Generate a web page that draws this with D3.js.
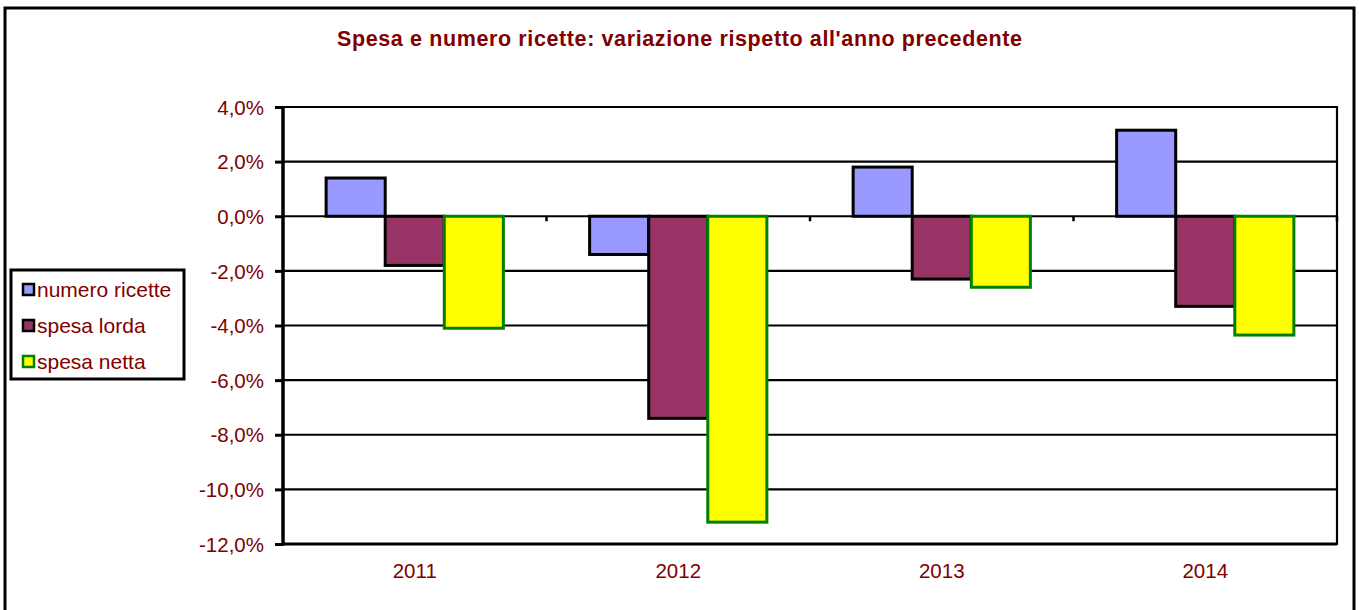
<!DOCTYPE html>
<html>
<head>
<meta charset="utf-8">
<script src="https://cdn.jsdelivr.net/npm/d3@7"></script>
<style>
html,body{margin:0;padding:0;background:#fff;}
svg{display:block;}
text{font-family:"Liberation Sans",Arial,sans-serif;fill:#800000;}
</style>
</head>
<body>
<svg id="chart" width="1359" height="610"></svg>
<script>
const categories = ["2011", "2012", "2013", "2014"];
const seriesNames = ["numero ricette", "spesa lorda", "spesa netta"];
const numeroRicette = [1.4, -1.4, 1.8, 3.15];
const spesaLorda = [-1.8, -7.4, -2.3, -3.3];
const spesaNetta = [-4.1, -11.2, -2.6, -4.35];
const yTicks = [4, 2, 0, -2, -4, -6, -8, -10, -12];
const titleText = "Spesa e numero ricette: variazione rispetto all'anno precedente";

const seriesValues = [numeroRicette, spesaLorda, spesaNetta];
const fills = ["#9999FF", "#993366", "#FFFF00"];
const strokes = ["#000000", "#000000", "#008000"];

const svg = d3.select("#chart");
const pLeft = 283, pRight = 1337, pTop = 107, pBottom = 544;

// outer border
svg.append("rect").attr("x", 5).attr("y", 8).attr("width", 1349).attr("height", 620)
  .attr("fill", "none").attr("stroke", "#000").attr("stroke-width", 3);

// title
svg.append("text").attr("x", 337).attr("y", 46)
  .attr("textLength", 685).attr("lengthAdjust", "spacing")
  .style("font-weight", "bold").style("font-size", "21.5px")
  .text(titleText);

const x = d3.scaleBand().domain(categories).range([pLeft, pRight]).paddingInner(0).paddingOuter(0);
const y = d3.scaleLinear().domain([-12, 4]).range([pBottom, pTop]);
const xInner = d3.scaleBand().domain(seriesNames).range([0, x.bandwidth()]).paddingInner(0).paddingOuter(0.73);

// gridlines
svg.append("g").selectAll("line").data(yTicks).join("line")
  .attr("x1", pLeft).attr("x2", pRight)
  .attr("y1", d => y(d)).attr("y2", d => y(d))
  .attr("stroke", "#000").attr("stroke-width", d => d === -12 ? 3 : 2.2);

// right border
svg.append("line").attr("x1", pRight).attr("x2", pRight).attr("y1", pTop - 1).attr("y2", pBottom + 1)
  .attr("stroke", "#000").attr("stroke-width", 2.2);

// category tick marks at zero line
svg.append("g").selectAll("line").data(categories.slice(1).concat(["end"])).join("line")
  .attr("x1", d => d === "end" ? pRight : x(d)).attr("x2", d => d === "end" ? pRight : x(d))
  .attr("y1", y(0)).attr("y2", y(0) + 5)
  .attr("stroke", "#000").attr("stroke-width", 2.5);

// bars
const barData = [];
categories.forEach((c, i) => {
  seriesNames.forEach((s, j) => {
    barData.push({cat: c, ser: s, j: j, v: seriesValues[j][i]});
  });
});
svg.append("g").selectAll("rect").data(barData).join("rect")
  .attr("x", d => x(d.cat) + xInner(d.ser))
  .attr("width", xInner.bandwidth())
  .attr("y", d => y(Math.max(0, d.v)))
  .attr("height", d => Math.abs(y(d.v) - y(0)))
  .attr("fill", d => fills[d.j])
  .attr("stroke", d => strokes[d.j])
  .attr("stroke-width", 3);

// y axis
const yAxis = d3.axisLeft(y).tickValues(yTicks).tickSize(8).tickPadding(11)
  .tickFormat(d => d3.format(".1f")(d).replace(".", ",").replace("−", "-") + "%");
const ya = svg.append("g").attr("transform", `translate(${pLeft},0)`).call(yAxis);
ya.select(".domain").attr("stroke", "#000").attr("stroke-width", 3.5).attr("d", `M0,${pTop - 1}V${pBottom + 1.5}`);
ya.selectAll(".tick line").attr("stroke", "#000").attr("stroke-width", 3);
ya.selectAll(".tick text").style("font-size", "20.5px").attr("fill", "#800000").attr("dy", "0.35em");

// x labels
const xAxis = d3.axisBottom(x).tickSize(0).tickPadding(0);
const xa = svg.append("g").attr("transform", `translate(0,${pBottom})`).call(xAxis);
xa.select(".domain").remove();
xa.selectAll(".tick text").style("font-size", "20.5px").attr("fill", "#800000").attr("y", 27).attr("dy", "0.35em");

// legend
const lg = svg.append("g");
lg.append("rect").attr("x", 11).attr("y", 270).attr("width", 173).attr("height", 109)
  .attr("fill", "#fff").attr("stroke", "#000").attr("stroke-width", 3);
const rowY = [290, 326, 362];
seriesNames.forEach((s, j) => {
  lg.append("rect").attr("x", 23).attr("y", rowY[j] - 6).attr("width", 11).attr("height", 11)
    .attr("fill", fills[j]).attr("stroke", strokes[j] === "#008000" ? "#008000" : "#000").attr("stroke-width", 2.5);
  lg.append("text").attr("x", 37).attr("y", rowY[j]).attr("dy", "0.35em")
    .style("font-size", "21px").text(s);
});
</script>
</body>
</html>
